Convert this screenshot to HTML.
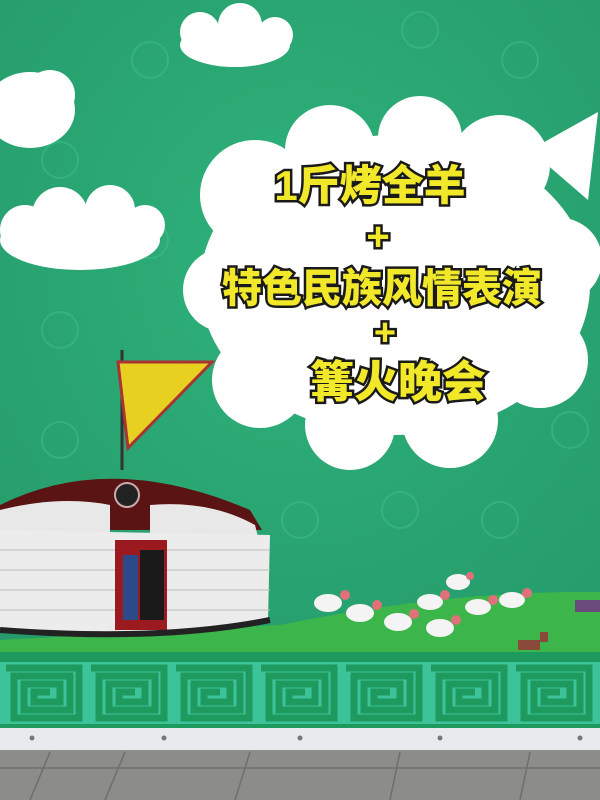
<!DOCTYPE html>
<html><head><meta charset="utf-8"><style>
html,body{margin:0;padding:0;width:600px;height:800px;overflow:hidden;background:#8a8a86}
.t{font-family:"Liberation Sans","Noto Sans CJK SC",sans-serif;font-weight:900;fill:#f2e82a;stroke:#1a1a1a;stroke-width:5;paint-order:stroke;text-anchor:middle}
</style></head><body>
<svg width="600" height="800" viewBox="0 0 600 800" xmlns="http://www.w3.org/2000/svg">
<defs>
<pattern id="mea" x="0" y="662" width="85" height="62" patternUnits="userSpaceOnUse">
<rect width="85" height="62" fill="#3cc39a"/>
<path d="M6 6 H79 V56 H14 V14 H70 V48 H24 V22 H60 V40 H34 V30 H50" fill="none" stroke="#1f9a5e" stroke-width="7"/>
</pattern>
<radialGradient id="bg" cx="0.5" cy="0.4" r="0.8"><stop offset="0" stop-color="#2fb27a"/><stop offset="1" stop-color="#24996a"/></radialGradient>
</defs>
<rect x="0" y="0" width="600" height="660" fill="url(#bg)"/>
<g fill="none" stroke="#3fc08c" stroke-width="2" opacity="0.5">
<circle cx="60" cy="330" r="18"/><circle cx="150" cy="240" r="18"/><circle cx="60" cy="160" r="18"/><circle cx="150" cy="60" r="18"/><circle cx="420" cy="30" r="18"/><circle cx="520" cy="60" r="18"/><circle cx="500" cy="520" r="18"/><circle cx="400" cy="510" r="18"/><circle cx="300" cy="520" r="18"/><circle cx="570" cy="430" r="18"/><circle cx="60" cy="440" r="18"/>
</g>
<g fill="#fff">
<ellipse cx="235" cy="45" rx="55" ry="22"/><circle cx="200" cy="32" r="20"/><circle cx="240" cy="25" r="22"/><circle cx="275" cy="35" r="18"/>
</g>
<g fill="#fff">
<ellipse cx="30" cy="110" rx="45" ry="38"/><circle cx="50" cy="95" r="25"/>
</g>
<g fill="#fff">
<ellipse cx="80" cy="240" rx="80" ry="30"/><circle cx="60" cy="215" r="28"/><circle cx="110" cy="210" r="25"/><circle cx="145" cy="225" r="20"/><circle cx="25" cy="230" r="25"/>
</g>
<g fill="#fff">
<ellipse cx="395" cy="285" rx="195" ry="150"/>
<circle cx="255" cy="195" r="55"/><circle cx="330" cy="150" r="45"/><circle cx="420" cy="138" r="42"/><circle cx="500" cy="165" r="50"/>
<circle cx="560" cy="260" r="42"/><circle cx="540" cy="360" r="48"/><circle cx="450" cy="420" r="48"/><circle cx="350" cy="425" r="45"/>
<circle cx="260" cy="380" r="48"/><circle cx="225" cy="290" r="42"/>
<path d="M530 150 L598 112 L588 200 Z"/>
</g>
<text class="t" x="370" y="200" font-size="42">1斤烤全羊</text>
<text class="t" x="378" y="250" font-size="40">+</text>
<text class="t" x="382" y="302" font-size="40">特色民族风情表演</text>
<text class="t" x="385" y="345" font-size="38">+</text>
<text class="t" x="398" y="397" font-size="44">篝火晚会</text>
<path d="M0 640 L280 625 Q450 590 600 592 L600 660 L0 660 Z" fill="#3cb54a"/>
<g>
<line x1="122" y1="350" x2="122" y2="470" stroke="#333" stroke-width="3"/>
<path d="M118 362 L212 362 L128 448 Z" fill="#e8d020" stroke="#a33" stroke-width="3"/>
<path d="M0 505 Q110 450 250 510 L262 530 L0 530 Z" fill="#5a1414"/>
<path d="M0 510 Q60 495 110 505 L110 540 L0 540 Z" fill="#e8e8e8"/>
<path d="M150 505 Q210 500 255 525 L260 545 L150 545 Z" fill="#e8e8e8"/>
<path d="M0 530 L270 535 L268 620 Q160 640 0 630 Z" fill="#ececec"/>
<path d="M0 550 H270 M0 570 H270 M0 590 H270 M0 610 H270" stroke="#bbb" stroke-width="1"/>
<rect x="115" y="540" width="52" height="90" fill="#9a1a20"/>
<rect x="123" y="555" width="15" height="65" fill="#2a4a8a"/>
<rect x="140" y="550" width="24" height="70" fill="#1a1a1a"/>
<circle cx="127" cy="495" r="12" fill="#222" stroke="#caa" stroke-width="2"/>
<path d="M0 630 Q160 642 270 620" stroke="#222" stroke-width="6" fill="none"/>
</g>
<g fill="#f4f4f4">
<ellipse cx="328" cy="603" rx="14" ry="9"/><ellipse cx="360" cy="613" rx="14" ry="9"/><ellipse cx="398" cy="622" rx="14" ry="9"/><ellipse cx="440" cy="628" rx="14" ry="9"/><ellipse cx="430" cy="602" rx="13" ry="8"/><ellipse cx="458" cy="582" rx="12" ry="8"/><ellipse cx="478" cy="607" rx="13" ry="8"/><ellipse cx="512" cy="600" rx="13" ry="8"/>
</g>
<g fill="#e0707a">
<circle cx="345" cy="595" r="5"/><circle cx="377" cy="605" r="5"/><circle cx="414" cy="614" r="5"/><circle cx="456" cy="620" r="5"/><circle cx="445" cy="595" r="5"/><circle cx="470" cy="576" r="4"/><circle cx="493" cy="600" r="5"/><circle cx="527" cy="593" r="5"/>
</g>
<g>
<rect x="518" y="640" width="22" height="10" fill="#8a4a3a"/><rect x="540" y="632" width="8" height="10" fill="#8a4a3a"/>
<rect x="575" y="600" width="25" height="12" fill="#6a4a7a"/>
</g>
<rect x="0" y="652" width="600" height="80" fill="#1f9a5e"/>
<rect x="0" y="662" width="600" height="62" fill="url(#mea)"/>
<rect x="0" y="728" width="600" height="22" fill="#e8eaee"/>
<g fill="#777"><circle cx="32" cy="738" r="2.5"/><circle cx="164" cy="738" r="2.5"/><circle cx="300" cy="738" r="2.5"/><circle cx="440" cy="738" r="2.5"/><circle cx="580" cy="738" r="2.5"/></g>
<rect x="0" y="750" width="600" height="50" fill="#8c8c88"/>
<g stroke="#6e6e6a" stroke-width="1.5"><line x1="50" y1="752" x2="30" y2="800"/><line x1="125" y1="752" x2="105" y2="800"/><line x1="250" y1="752" x2="235" y2="800"/><line x1="400" y1="752" x2="390" y2="800"/><line x1="530" y1="752" x2="520" y2="800"/><line x1="0" y1="768" x2="600" y2="768"/></g>
</svg>
</body></html>
